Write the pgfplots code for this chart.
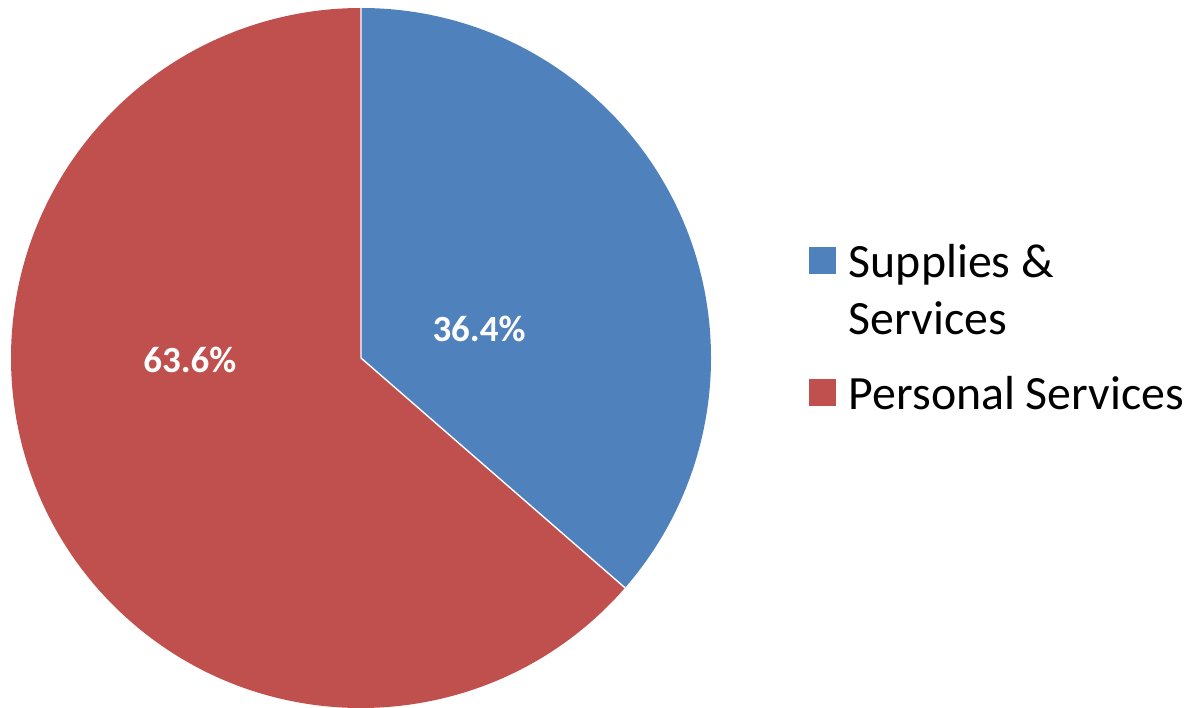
\documentclass[border=0pt]{standalone}
\usepackage{fontspec}
\setmainfont{Carlito}
\usepackage{pgfplots}
\usepackage{pgfplotstable}
\pgfplotsset{compat=1.18}
\definecolor{pieblue}{HTML}{4F81BD}
\definecolor{piered}{HTML}{C0504D}
\pgfplotstableread{
label value
Supplies 36.4
Personal 63.6
}\piedata
\begin{document}
\begin{tikzpicture}
\pgfplotstablegetelem{0}{value}\of\piedata
\let\va\pgfplotsretval
\pgfplotstablegetelem{1}{value}\of\piedata
\let\vb\pgfplotsretval
\pgfmathsetmacro{\angA}{90-3.6*\va}
\pgfmathsetmacro{\angB}{\angA-3.6*\vb}
\pgfmathsetmacro{\cxA}{cos(\angA)}
\pgfmathsetmacro{\cyA}{sin(\angA)}
\begin{axis}[
  scale only axis,
  width=11.92cm, height=7.07cm,
  xmin=-1.031428571, xmax=2.374285714,
  ymin=-0.997142857, ymax=1.022857143,
  hide axis,
  legend style={draw=none, fill=none, inner sep=0pt, outer sep=0pt,
    at={(axis cs:1.28,0.346)}, anchor=north west,
    font=\fontsize{13.6}{16.4}\selectfont,
    row sep=22.6pt, column sep=1.7pt,
    cells={anchor=base west, inner sep=0pt}},
  legend image code/.code={\fill[#1] (0pt,-3.1pt) rectangle (7.65pt,4.55pt);},
  legend cell align=left,
]
\fill[pieblue] (axis cs:0,0) -- (axis cs:0,1) arc[start angle=90, end angle=\angA, radius=3.5cm] -- cycle;
\fill[piered] (axis cs:0,0) -- (axis cs:\cxA,\cyA) arc[start angle=\angA, end angle=\angB, radius=3.5cm] -- cycle;
\draw[white, line width=0.4pt] (axis cs:0,1) -- (axis cs:0,0) -- (axis cs:\cxA,\cyA);
\node[white, font=\bfseries\fontsize{10.5}{12}\selectfont] at (axis cs:0.337,0.083) {36.4\%};
\node[white, font=\bfseries\fontsize{10.5}{12}\selectfont] at (axis cs:-0.489,-0.006) {63.6\%};
\addlegendimage{fill=pieblue, draw=none}
\addlegendentry{\vtop{\hbox{Supplies \&}\hbox{Services}}}
\addlegendimage{fill=piered, draw=none}
\addlegendentry{Personal Services}
\end{axis}
\pgfresetboundingbox
\path[use as bounding box] (current axis.south west) rectangle (current axis.north east);
\end{tikzpicture}
\end{document}
